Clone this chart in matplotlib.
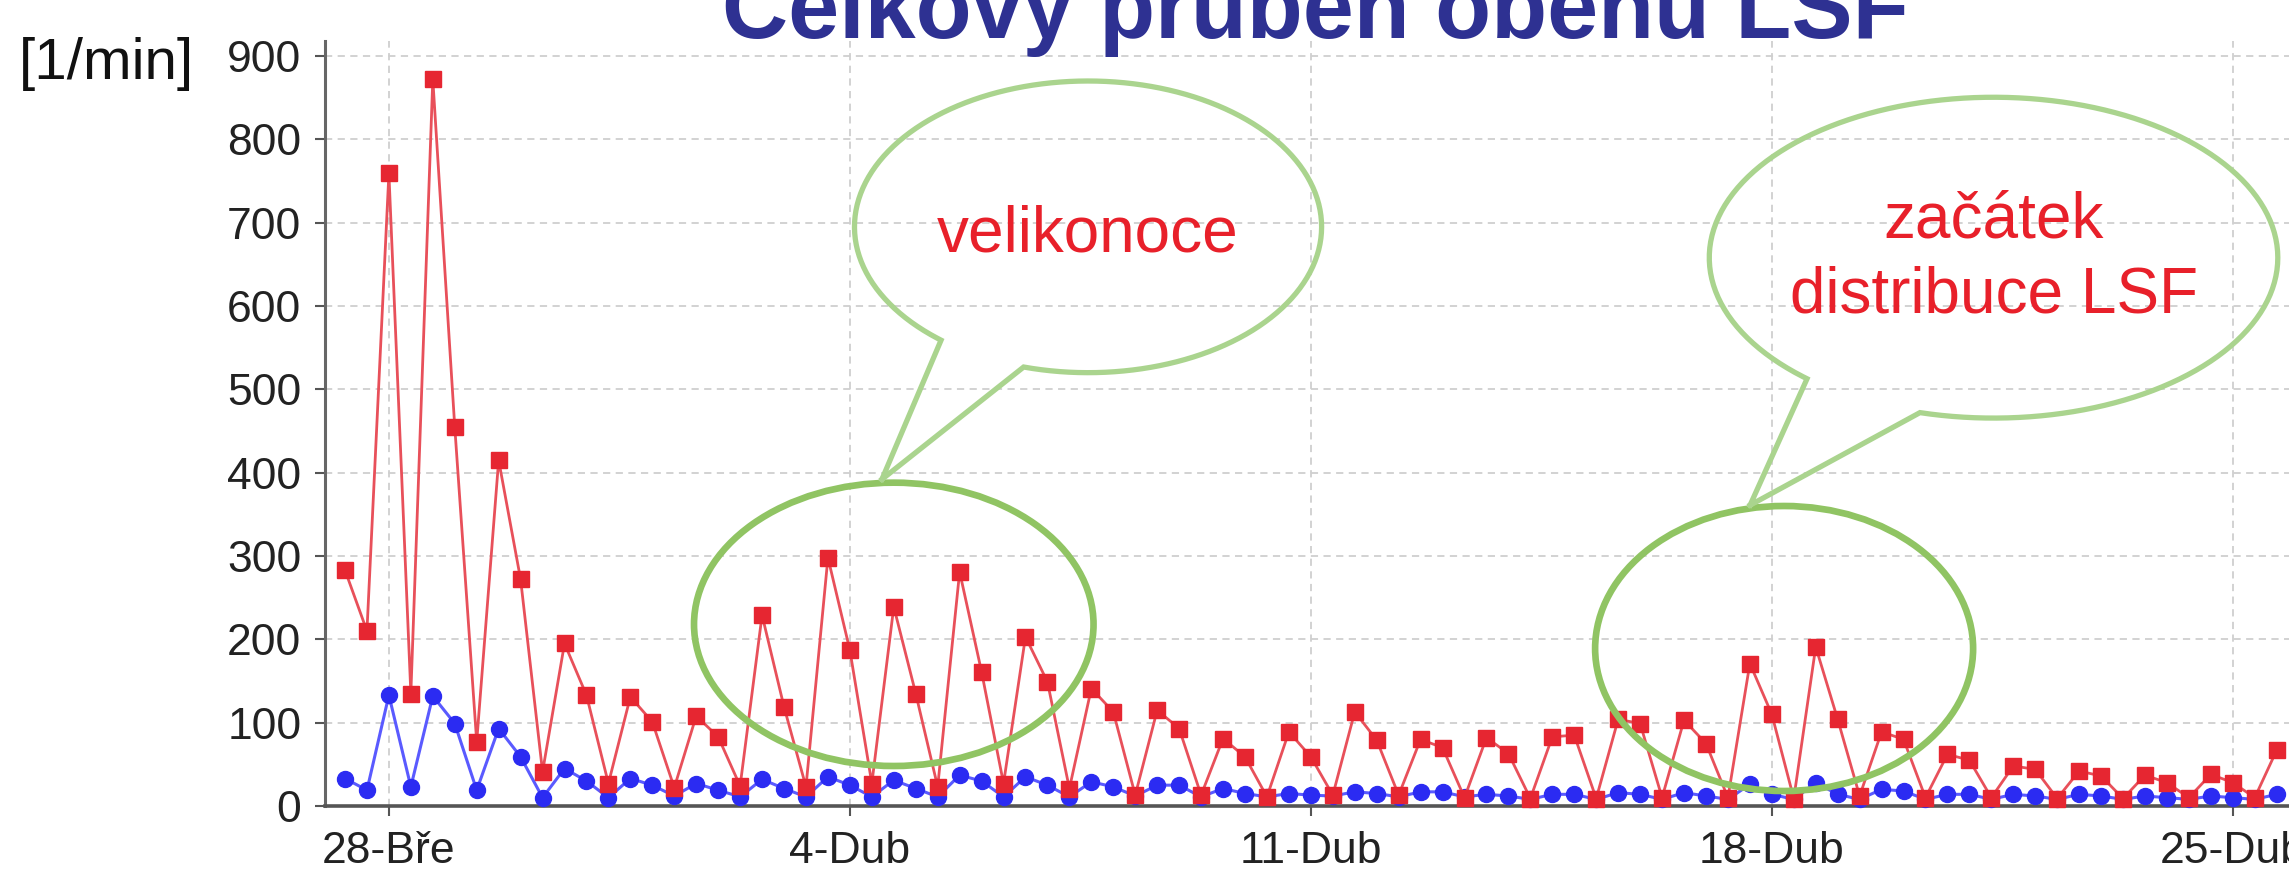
import matplotlib
matplotlib.use('Agg')
import matplotlib.pyplot as plt
import matplotlib.dates as mdates
import numpy as np
import pandas as pd
from matplotlib.patches import Ellipse

# ---- data (samples every 8 hours) ----
red_values = [283, 210, 759, 135, 872, 455, 77, 415, 272, 41,
              195, 133, 27, 131, 101, 22, 108, 83, 24, 229,
              119, 23, 298, 187, 27, 239, 135, 23, 281, 161,
              27, 203, 149, 21, 141, 113, 13, 115, 93, 13,
              81, 59, 11, 89, 59, 13, 113, 79, 13, 80,
              70, 10, 82, 63, 9, 83, 85, 9, 104, 99,
              10, 103, 75, 10, 171, 110, 9, 191, 104, 12,
              89, 80, 10, 62, 55, 10, 48, 44, 9, 42,
              36, 9, 37, 28, 10, 38, 28, 10, 67]
blue_values = [33, 19, 133, 23, 132, 99, 19, 93, 59, 10,
               45, 30, 10, 33, 25, 12, 27, 19, 11, 32,
               21, 11, 35, 25, 11, 31, 21, 11, 37, 30,
               11, 35, 25, 11, 29, 23, 12, 25, 25, 11,
               21, 15, 11, 15, 13, 12, 17, 15, 11, 17,
               17, 11, 14, 12, 8, 14, 14, 8, 16, 14,
               8, 16, 12, 8, 26, 14, 8, 28, 14, 8,
               20, 18, 8, 14, 14, 8, 14, 12, 8, 14,
               12, 8, 12, 10, 8, 12, 10, 8, 14]
start_time = '2012-03-27 08:00'
tick_dates = ['2012-03-28', '2012-04-04', '2012-04-11', '2012-04-18', '2012-04-25']
tick_labels = ['28-Bře', '4-Dub', '11-Dub', '18-Dub', '25-Dub']
y_ticks = [0, 100, 200, 300, 400, 500, 600, 700, 800, 900]

title_text = 'Celkový průběh oběhu LSF'
unit_text = '[1/min]'
note1 = 'velikonoce'
note2a = 'začátek'
note2b = 'distribuce LSF'

times = pd.date_range(start_time, periods=len(red_values), freq='8h')
xnum = mdates.date2num(times.to_pydatetime())
x0 = xnum[0]

def X(i):
    return x0 + np.asarray(i) / 3.0

W, H, DPI = 2289, 872, 100
fig = plt.figure(figsize=(W / DPI, H / DPI), dpi=DPI)
ax = fig.add_axes([325 / W, 66 / H, 1 - 325 / W, (806 - 41) / H])

FONT = 'Liberation Sans'
grid_kw = dict(color='#cfcfcf', lw=1.3, ls=(0, (4, 3)), zorder=0)
for yv in y_ticks[1:]:
    ax.axhline(yv, **grid_kw)
tick_x = mdates.date2num(pd.to_datetime(tick_dates).to_pydatetime())
for tx in tick_x:
    ax.axvline(tx, **grid_kw)

ax.plot(xnum, blue_values, color='#5a5aff', lw=2.2, marker='o', ms=11.5,
        mfc='#2b2bf2', mec='#2b2bf2', zorder=3, clip_on=False)
ax.plot(xnum, red_values, color='#e8505a', lw=2.0, marker='s', ms=11,
        mfc='#e62631', mec='#e62631', zorder=4, clip_on=False)

ax.set_xlim(X(-0.911), X(88.56))
ax.set_ylim(0, 918)
ax.set_xticks(tick_x)
ax.set_xticklabels(tick_labels, fontfamily=FONT)
ax.set_yticks(y_ticks)
ax.set_yticklabels([str(v) for v in y_ticks], fontfamily=FONT)
ax.tick_params(axis='both', direction='out', length=7, width=1.5,
               color='#555555', labelcolor='#222222', labelsize=32)
ax.tick_params(axis='x', pad=11)
ax.tick_params(axis='y', pad=10)
for s in ['top', 'right']:
    ax.spines[s].set_visible(False)
ax.spines['left'].set_color('#666666')
ax.spines['left'].set_linewidth(2.2)
ax.spines['bottom'].set_color('#555555')
ax.spines['bottom'].set_linewidth(2.6)

# ---- annotations ----
GREEN_DATA = '#90c463'
GREEN_BUB = '#aad48e'

def data_ellipse(ci, cv, wi, hv):
    e = Ellipse((X(ci), cv), wi / 3.0, hv, fill=False, edgecolor=GREEN_DATA,
                lw=4.8, zorder=5, clip_on=False)
    ax.add_patch(e)

def bubble(ci, cv, wi, hv, tL, tR, tip_i, tip_v):
    a, b = wi / 2.0, hv / 2.0
    ts = np.radians(np.linspace(tR, tL + 360, 300))
    xs = np.concatenate([[tip_i], ci + a * np.cos(ts), [tip_i]])
    ys = np.concatenate([[tip_v], cv + b * np.sin(ts), [tip_v]])
    ax.plot(X(xs), ys, color=GREEN_BUB, lw=3.8, zorder=5, clip_on=False,
            solid_joinstyle='miter')

data_ellipse(25.0, 218, 18.2, 340)
bubble(33.85, 695, 21.28, 350, 231, 254, 24.46, 392)
ax.text(X(33.85), 686, note1, ha='center', va='center', fontsize=46,
        color='#e8202a', fontfamily=FONT, zorder=6)

data_ellipse(65.56, 189, 17.22, 342)
bubble(75.1, 658, 25.9, 385, 229, 255, 64.01, 361)
ax.text(X(75.1), 702, note2a, ha='center', va='center', fontsize=46,
        color='#e8202a', fontfamily=FONT, zorder=6)
ax.text(X(75.1), 612, note2b, ha='center', va='center', fontsize=46,
        color='#e8202a', fontfamily=FONT, zorder=6)

fig.text(1315 / W, 1 - 38 / H, title_text, ha='center', va='baseline',
         fontsize=66, fontweight='bold', color='#2e3192', fontfamily=FONT)
fig.text(106 / W, 1 - 64 / H, unit_text, ha='center', va='center',
         fontsize=42, color='#111111', fontfamily=FONT)

fig.savefig('out.png', dpi=DPI)
